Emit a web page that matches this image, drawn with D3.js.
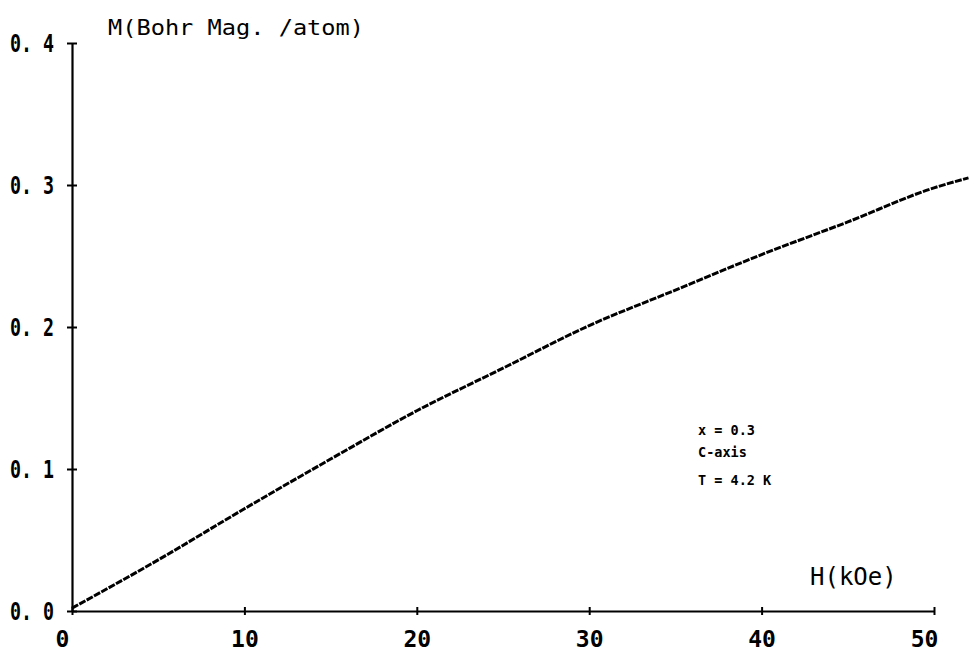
<!DOCTYPE html>
<html>
<head>
<meta charset="utf-8">
<script src="https://cdn.jsdelivr.net/npm/d3@7"></script>
<style>
  body { margin: 0; background: #fff; }
  svg { display: block; }
  .plot text { font-family: "DejaVu Sans Mono", monospace; fill: #000; }
</style>
</head>
<body>
<svg id="chart" class="plot" width="973" height="652"></svg>
<script>
// magnetization curve
var fieldKOe = [0, 5, 10, 15, 20, 25, 30, 35, 40, 45, 50, 52];
var momentBohr = [0.002, 0.036, 0.072, 0.107, 0.141, 0.171, 0.201, 0.226, 0.251, 0.274, 0.298, 0.305];

var xTicks = [0, 10, 20, 30, 40, 50];
var yTicks = [0, 0.1, 0.2, 0.3, 0.4];
var notes = ["x = 0.3", "C-axis", "T = 4.2 K"];

var svg = d3.select("#chart");

var x = d3.scaleLinear().domain([0, 50]).range([72, 934]);
var y = d3.scaleLinear().domain([0, 0.4]).range([611, 43]);

//ticks cross the axis line like on the plotter
function styleAxis(g) {
  g.select(".domain").attr("stroke", "#000").attr("stroke-width", 2.2);
  g.selectAll(".tick line").attr("stroke", "#000").attr("stroke-width", 2);
};

var xAxis = svg.append("g")
  .attr("transform", "translate(0," + y(0) + ")")
  .call(d3.axisBottom(x)
    .tickValues(xTicks)
    .tickSize(4)
    .tickSizeOuter(0)
    .tickPadding(0)
    .tickFormat(function(d) { return d3.format("d")(d); }))
  .call(styleAxis);

xAxis.selectAll(".tick line").attr("y1", -4);
xAxis.selectAll(".tick text")
  .attr("y", 36)
  .attr("dy", 0)
  .attr("font-size", 23)
  .attr("font-weight", "bold")
  .attr("dx", function(d) {
    //plotter nudged the end labels inward
    if (d == 0) return -10;
    if (d == 50) return -10;
    return 0;
  });

var yAxis = svg.append("g")
  .attr("transform", "translate(" + x(0) + ",0)")
  .call(d3.axisLeft(y)
    .tickValues(yTicks)
    .tickSize(5)
    .tickSizeOuter(0)
    .tickPadding(0)
    .tickFormat(function(d) { return d3.format(".1f")(d).replace(".", ". "); }))
  .call(styleAxis);

yAxis.selectAll(".tick line").attr("x2", 5).attr("x1", -5);
yAxis.selectAll(".tick text")
  .attr("x", -18)
  .attr("dy", "0.36em")
  .attr("font-size", 24)
  .attr("font-weight", "bold")
  .attr("textLength", 44)
  .attr("lengthAdjust", "spacingAndGlyphs");

// axis titles
svg.append("text")
  .attr("x", 108)
  .attr("y", 35)
  .attr("font-size", 21)
  .attr("textLength", 256)
  .attr("lengthAdjust", "spacingAndGlyphs")
  .text("M(Bohr Mag. /atom)");

svg.append("text")
  .attr("x", 810)
  .attr("y", 585)
  .attr("font-size", 24)
  .text("H(kOe)");

// sample info
svg.selectAll(".note")
  .data(notes)
  .enter()
  .append("text")
    .attr("class", "note")
    .attr("x", 698)
    .attr("y", function(d, i) {
      return [435, 457, 485][i];
    })
    .attr("font-size", 13.5)
    .attr("font-weight", "bold")
    .text(function(d) { return d; });

// the measured trace, drawn as a broken heavy line
var line = d3.line()
  .x(function(d) { return x(d[0]); })
  .y(function(d) { return y(d[1]); })
  .curve(d3.curveMonotoneX);

svg.append("path")
  .datum(d3.zip(fieldKOe, momentBohr))
  .attr("d", line)
  .attr("fill", "none")
  .attr("stroke", "#000")
  .attr("stroke-width", 3)
  .attr("stroke-dasharray", "7,1.4");
</script>
</body>
</html>
